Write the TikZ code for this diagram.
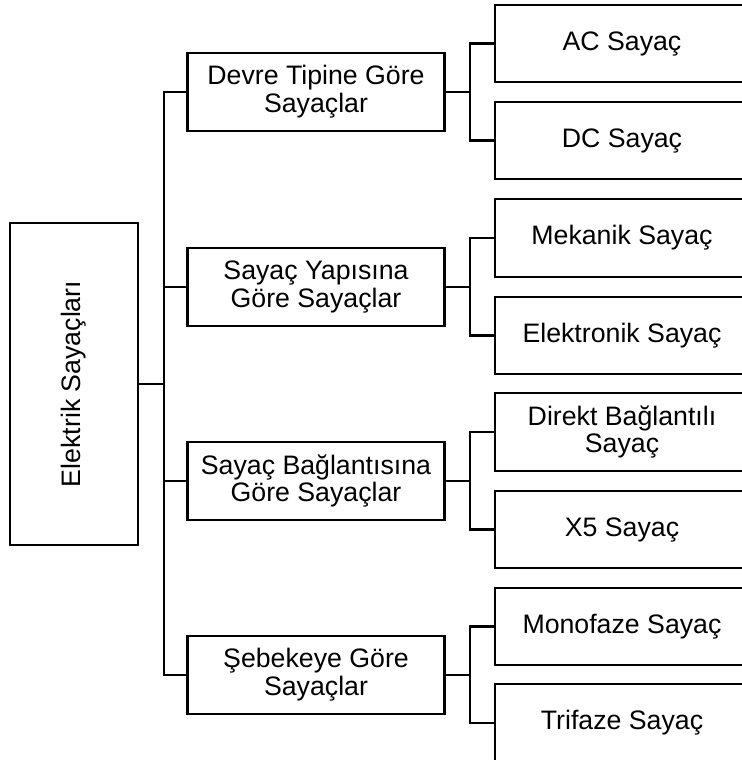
\documentclass[tikz,border=0pt]{standalone}
\usepackage{fontspec}
\setmainfont{Liberation Sans}
\usepackage{tikz}
\usetikzlibrary{positioning,calc}

\tikzset{
  kutu/.style={draw, line width=1.4pt, align=center, inner sep=0pt,
    font=\fontsize{15.2}{15.8}\selectfont},
  anakutu/.style={kutu, minimum width=2.56cm, minimum height=6.44cm},
  grupkutu/.style={kutu, minimum width=5.14cm, minimum height=1.56cm},
  turkutu/.style={kutu, minimum width=5.08cm, minimum height=1.55cm},
  hat/.style={line width=1.4pt}
}

\begin{document}
\begin{tikzpicture}
\clip (0,0) rectangle (14.84,-15.2);
% ana kutu
\node[anakutu] (ana) at (1.48,-7.68) {};
\node[rotate=90, font=\fontsize{15.2}{15.8}\selectfont] (anayazi) at (ana.center) {Elektrik Sayaçları};
% gruplar
\node[grupkutu] (devre) at (6.32,-1.84) {Devre Tipine Göre\\Sayaçlar};
\node[grupkutu] (yapi) at (6.32,-5.74) {Sayaç Yapısına\\Göre Sayaçlar};
\node[grupkutu] (bag) at (6.32,-9.62) {Sayaç Bağlantısına\\Göre Sayaçlar};
\node[grupkutu] (sebeke) at (6.32,-13.5) {Şebekeye Göre\\Sayaçlar};
% sayac turleri
\node[turkutu] (ac) at (12.44,-0.87) {AC Sayaç};
\node[turkutu] (dc) at (12.44,-2.81) {DC Sayaç};
\node[turkutu] (mek) at (12.44,-4.76) {Mekanik Sayaç};
\node[turkutu] (elek) at (12.44,-6.71) {Elektronik Sayaç};
\node[turkutu] (direkt) at (12.44,-8.64) {Direkt Bağlantılı\\Sayaç};
\node[turkutu] (xbes) at (12.44,-10.59) {X5 Sayaç};
\node[turkutu] (mono) at (12.44,-12.53) {Monofaze Sayaç};
\node[turkutu] (tri) at (12.44,-14.46) {Trifaze Sayaç};
% baglantilar
\draw[hat] (ana.east) -- ++(0.5,0) coordinate (govde);
\draw[hat] (govde) |- (devre.west);
\draw[hat] (govde) |- (yapi.west);
\draw[hat] (govde) |- (bag.west);
\draw[hat] (govde) |- (sebeke.west);
\draw[hat] (devre.east) -- ++(0.48,0) coordinate (j1);
\draw[hat] (j1) |- (ac.west);
\draw[hat] (j1) |- (dc.west);
\draw[hat] (yapi.east) -- ++(0.48,0) coordinate (j2);
\draw[hat] (j2) |- (mek.west);
\draw[hat] (j2) |- (elek.west);
\draw[hat] (bag.east) -- ++(0.48,0) coordinate (j3);
\draw[hat] (j3) |- (direkt.west);
\draw[hat] (j3) |- (xbes.west);
\draw[hat] (sebeke.east) -- ++(0.48,0) coordinate (j4);
\draw[hat] (j4) |- (mono.west);
\draw[hat] (j4) |- (tri.west);
\end{tikzpicture}
\end{document}
